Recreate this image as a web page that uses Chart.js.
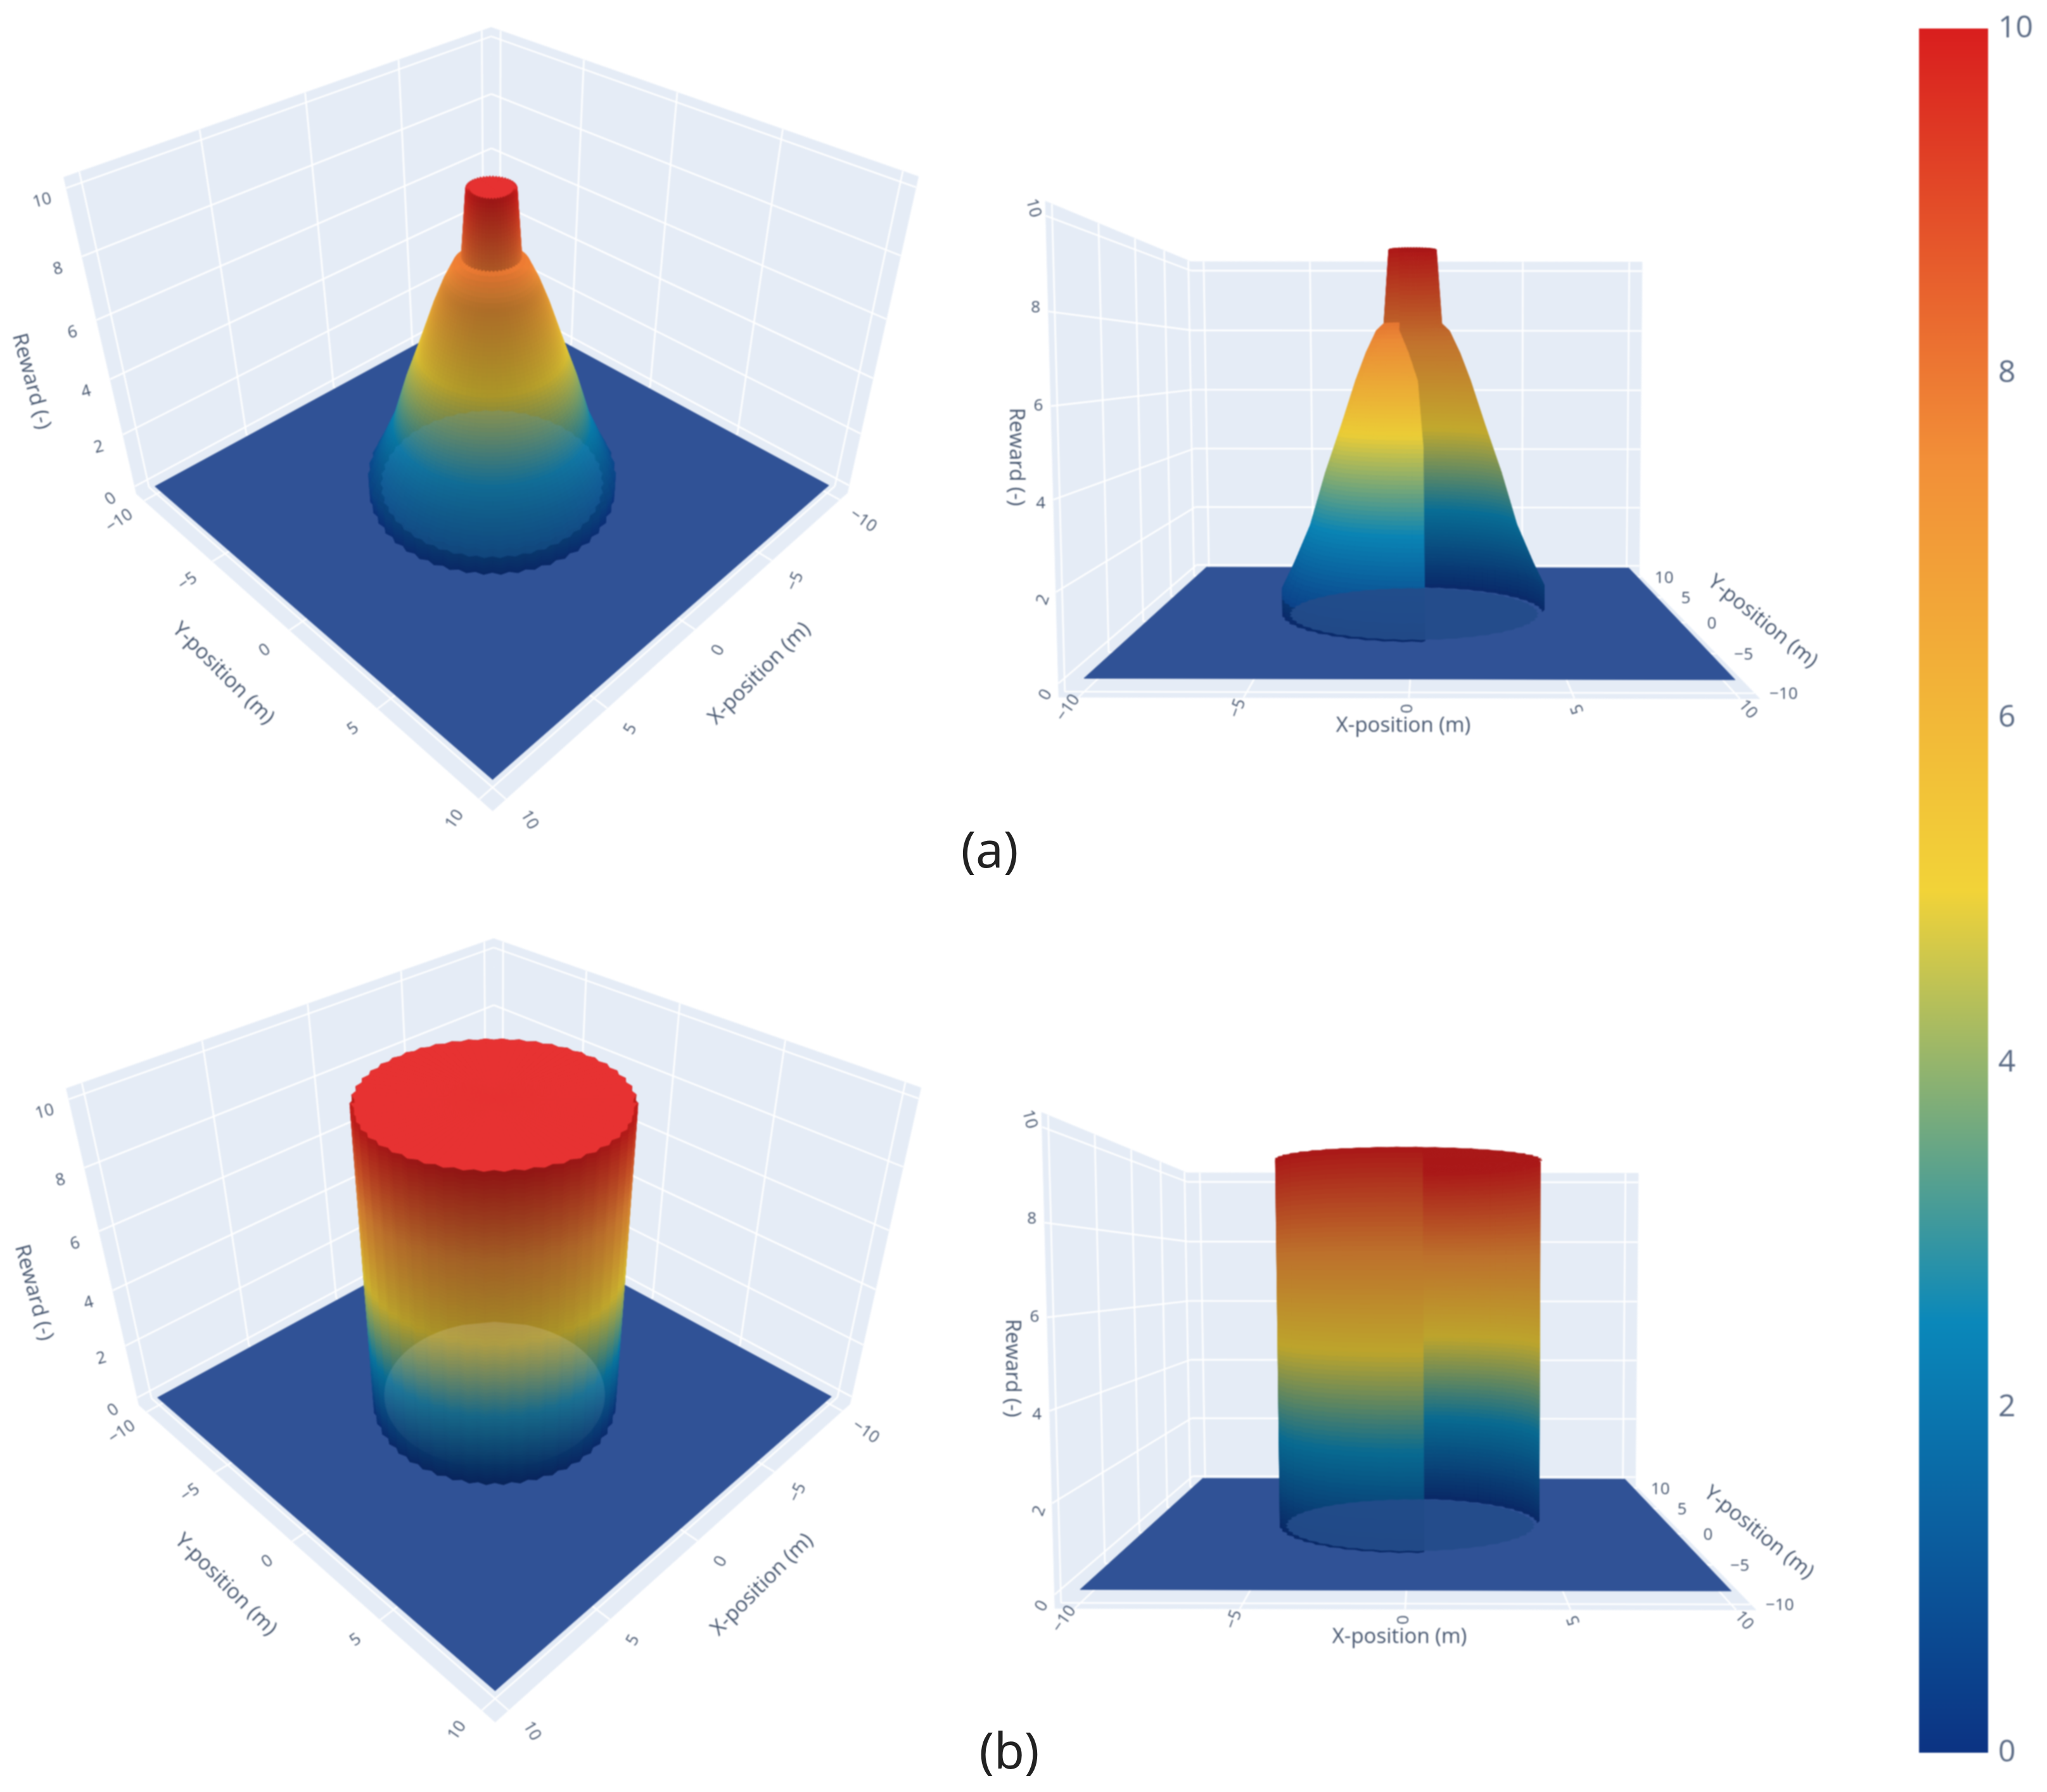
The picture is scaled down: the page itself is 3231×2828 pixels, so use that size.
<!DOCTYPE html>
<html>
<head>
<meta charset="utf-8">
<title>Reward surfaces</title>
<script src="https://cdn.jsdelivr.net/npm/chart.js@4/dist/chart.umd.js"></script>
<style>
html, body { margin: 0; padding: 0; background: #fff; }
#page { position: relative; width: 3231px; height: 2828px; overflow: hidden; }
#page canvas { position: absolute; filter: blur(1px); }
.tag { position: absolute; font: 78px "Noto Sans"; color: #222; transform: translate(-50%, -50%); }
</style>
</head>
<body>
<div id="page">
  <div class="tag" style="left:1562px;top:1339px">(a)</div>
  <div class="tag" style="left:1593px;top:2761px">(b)</div>
</div>
<script>
const xTicks = [-10, -5, 0, 5, 10];
const yTicks = [-10, -5, 0, 5, 10];
const zTicks = [0, 2, 4, 6, 8, 10];
const barTicks = [0, 2, 4, 6, 8, 10];
const radiusA = [0, 0.85, 1.05, 1.4, 1.8, 2.2, 2.75, 3.4, 4.0, 4.6, 4.95, 5.05, 5.05];
const rewardA = [10, 10, 8, 7.8, 7.2, 6.45, 5.25, 3.9, 2.45, 1.45, 0.85, 0.7, 0];
const radiusB = [0, 5, 5];
const rewardB = [10, 10, 0];
const colorLevels = [0, 2.5, 5, 7.5, 10];
const colorStops = [[12, 51, 131], [10, 136, 186], [242, 211, 56], [242, 143, 56], [217, 30, 30]];

// axis box of the plotly scene
const floorEdge = 10, axisEdge = 10.6, zLow = -0.3, zHigh = 10.3;

// 3x4 projection matrices, data units -> view plane
const cameraLeft = [
  [-35.6519, 17.5626, -12.4825, 776.738],
  [8.81220, 8.77965, -51.7907, 766.801],
  [-0.0117106, -0.0116558, -0.0159514, 1]
];
const cameraRight = [
  [40.2467, 48.2397, -5.18968, 2232.25],
  [0.00522817, 12.1891, -57.9401, 964.899],
  [-0.0000805452, 0.0213312, -0.00220983, 1]
];

function project(P, x, y, z) {
  const w = P[2][0] * x + P[2][1] * y + P[2][2] * z + P[2][3];
  return {
    x: (P[0][0] * x + P[0][1] * y + P[0][2] * z + P[0][3]) / w,
    y: (P[1][0] * x + P[1][1] * y + P[1][2] * z + P[1][3]) / w,
    w
  };
}
function cameraCentre(P) {
  const det = (m) => m[0][0] * (m[1][1] * m[2][2] - m[1][2] * m[2][1]) - m[0][1] * (m[1][0] * m[2][2] - m[1][2] * m[2][0]) + m[0][2] * (m[1][0] * m[2][1] - m[1][1] * m[2][0]);
  const M = P.map(r => r.slice(0, 3)), d = P.map(r => -r[3]), D = det(M);
  return [0, 1, 2].map(k => det(M.map((r, i) => r.map((v, j) => (j === k ? d[i] : v)))) / D);
}
function colorAt(z) {
  const v = Math.max(0, Math.min(10, z));
  let i = 0;
  while (i < colorLevels.length - 2 && v > colorLevels[i + 1]) i++;
  const t = (v - colorLevels[i]) / (colorLevels[i + 1] - colorLevels[i]);
  return colorStops[i].map((c, k) => c + (colorStops[i + 1][k] - c) * t);
}
function css(c) { return 'rgb(' + c.map(v => Math.round(Math.min(255, v))).join(',') + ')'; }
function lit(c, s) { return c.map(v => v + s * (255 - v)); }
function dim(c, f) { return c.map(v => v * f); }

// near wall of the right views is cut away, the far wall shows behind it
function seamAt(look, r) {
  const rs = look.seamR, xs = look.seamX;
  if (r <= rs[0]) return xs[0];
  for (let i = 1; i < rs.length; i++) {
    if (r <= rs[i]) return xs[i - 1] + (xs[i] - xs[i - 1]) * (r - rs[i - 1]) / (rs[i] - rs[i - 1]);
  }
  return xs[xs.length - 1];
}

function surfacePolys(P, radii, rewards, look) {
  const C = cameraCentre(P);
  const sectors = 96, jag = 0.06;
  const steep = (a, b) => b >= 0 && b < radii.length && Math.abs(radii[a] - radii[b]) < 0.3 && Math.abs(rewards[a] - rewards[b]) > 0.15;
  const isRim = radii.map((r, i) => r > 0 && (steep(i, i + 1) || steep(i, i - 1)));
  const ringR = (i, k) => radii[i] + (isRim[i] ? (k % 2 ? jag : -jag) : 0);
  const segN = [];
  for (let i = 0; i < radii.length - 1; i++) {
    const dr = radii[i + 1] - radii[i], dz = rewards[i + 1] - rewards[i], len = Math.hypot(dr, dz) || 1;
    segN.push([-dz / len, dr / len]);
  }
  const ringN = (i, seg) => {
    const other = segN[i === seg ? i - 1 : i];
    if (!other || other[0] * segN[seg][0] + other[1] * segN[seg][1] < 0.7) return segN[seg];
    const a = segN[seg][0] + other[0], b = segN[seg][1] + other[1], l = Math.hypot(a, b);
    return [a / l, b / l];
  };
  const polys = [];
  for (let i = 0; i < radii.length - 1; i++) {
    const dz = rewards[i + 1] - rewards[i];
    const strips = Math.max(1, Math.ceil(Math.abs(dz) / 0.12));
    const nA = ringN(i, i), nB = ringN(i + 1, i);
    const flat = segN[i][1] > 0.98;
    for (let k = 0; k < sectors; k++) {
      const a0 = k * 2 * Math.PI / sectors, a1 = (k + 1) * 2 * Math.PI / sectors, am = (a0 + a1) / 2;
      for (let s = 0; s < strips; s++) {
        const t0 = s / strips, t1 = (s + 1) / strips, tm = (t0 + t1) / 2;
        const rr = (t, q) => ringR(i, q) + (ringR(i + 1, q) - ringR(i, q)) * t;
        const z0 = rewards[i] + dz * t0, z1 = rewards[i] + dz * t1, zm = (z0 + z1) / 2;
        let corners = [[rr(t0, k), a0, z0], [rr(t0, k + 1), a1, z0], [rr(t1, k + 1), a1, z1], [rr(t1, k), a0, z1]]
          .map(([r, a, z]) => [r * Math.cos(a), r * Math.sin(a), z, r]);
        const cy = corners.reduce((q, p) => q + p[1], 0) / 4;
        if (look.seamX && cy < 0 && !flat) {
          if (corners.every(p => p[0] >= seamAt(look, p[3]))) continue;
          corners = corners.map(p => [Math.min(p[0], seamAt(look, p[3])), p[1], p[2], p[3]]);
        }
        const cx = corners.reduce((q, p) => q + p[0], 0) / 4;
        const d = [C[0] - cx, C[1] - cy, C[2] - zm], dl = Math.hypot(d[0], d[1], d[2]);
        const nr = nA[0] + (nB[0] - nA[0]) * tm, nz = nA[1] + (nB[1] - nA[1]) * tm;
        const n = [nr * Math.cos(am), nr * Math.sin(am), nz];
        const facing = Math.abs((n[0] * d[0] + n[1] * d[1] + n[2] * d[2]) / dl);
        let c = colorAt(zm);
        if (flat) {
          c = C[2] > zm ? dim(lit(c, 0.08), 1.05) : dim(c, 0.78);
        } else if (look.k !== undefined) {
          c = dim(c, Math.min(1, look.base - look.k * facing + look.lift * Math.max(0, nz - 0.5)));
        } else {
          c = dim(c, cy < 0 && nz > 0.2 ? look.near : look.far);
        }
        const pts = corners.map(p => project(P, p[0], p[1], p[2]));
        polys.push({ pts, color: css(c), w: pts.reduce((q, p) => q + p.w, 0) / 4 });
      }
    }
  }
  polys.sort((a, b) => b.w - a.w);
  return polys;
}
// translucent base lip seen through the surface
function discPolys(P, look) {
  const r = look.discR;
  if (look.discFade) {
    const C = cameraCentre(P), dl = Math.hypot(C[0], C[1]), ux = C[0] / dl, uy = C[1] / dl;
    const bands = 40, polys = [];
    for (let b = 0; b < bands; b++) {
      const s0 = -r + 2 * r * b / bands, s1 = -r + 2 * r * (b + 1) / bands;
      const h0 = Math.sqrt(Math.max(0, r * r - s0 * s0)), h1 = Math.sqrt(Math.max(0, r * r - s1 * s1));
      const pt = (s, h) => project(P, ux * s - uy * h, uy * s + ux * h, look.discZ);
      const alpha = look.discFade * Math.pow(1 - (b + 0.5) / bands, 0.8);
      polys.push({ pts: [pt(s0, -h0), pt(s0, h0), pt(s1, h1), pt(s1, -h1)], color: 'rgba(255,255,255,' + alpha.toFixed(3) + ')', clear: true });
    }
    return polys;
  }
  const pts = [];
  for (let k = 0; k < 96; k++) {
    const a = k * 2 * Math.PI / 96, q = r + (k % 2 ? 0.05 : -0.05);
    pts.push(project(P, q * Math.cos(a), q * Math.sin(a), look.discZ));
  }
  return [{ pts, color: look.discColor, clear: true }];
}
function quad3(P, list, color) { return { pts: list.map(p => project(P, p[0], p[1], p[2])), color }; }

function wallPolys(P, view) {
  const color = '#e5ecf6', A = axisEdge;
  const polys = [quad3(P, [[-A, -A, zLow], [A, -A, zLow], [A, A, zLow], [-A, A, zLow]], color)];
  view.wallX.forEach(at => polys.push(quad3(P, [[at, -A, zLow], [at, A, zLow], [at, A, zHigh], [at, -A, zHigh]], color)));
  view.wallY.forEach(at => polys.push(quad3(P, [[-A, at, zLow], [A, at, zLow], [A, at, zHigh], [-A, at, zHigh]], color)));
  return polys;
}
function gridLine(P, a, b) {
  const p = project(P, a[0], a[1], a[2]), q = project(P, b[0], b[1], b[2]);
  return { data: [{ x: p.x, y: p.y }, { x: q.x, y: q.y }], showLine: true, pointRadius: 0, borderColor: '#ffffff', borderWidth: 2.6 };
}
function gridLines(P, view) {
  const A = axisEdge, out = [];
  xTicks.forEach(t => out.push(gridLine(P, [t, -A, zLow], [t, A, zLow])));
  yTicks.forEach(t => out.push(gridLine(P, [-A, t, zLow], [A, t, zLow])));
  view.wallX.forEach(at => {
    yTicks.forEach(t => out.push(gridLine(P, [at, t, zLow], [at, t, zHigh])));
    zTicks.forEach(t => out.push(gridLine(P, [at, -A, t], [at, A, t])));
  });
  view.wallY.forEach(at => {
    xTicks.forEach(t => out.push(gridLine(P, [t, at, zLow], [t, at, zHigh])));
    zTicks.forEach(t => out.push(gridLine(P, [-A, at, t], [A, at, t])));
  });
  return out;
}
function tickText(v) { return String(v).replace('-', '\u2212'); }
function textMarks(P, view) {
  const marks = [], tick = 26, title = 33, ink = '#46566f';
  const push = (list, at, off, angles) => list.forEach((t, i) => {
    const p = project(P, ...at(t)), o = off(t);
    marks.push({ text: tickText(t), x: p.x + o[0], y: p.y + o[1], angle: angles[i], size: tick, color: ink });
  });
  push(xTicks, view.xEdge, view.xOff, view.xAngles);
  push(yTicks, view.yEdge, view.yOff, view.yAngles);
  push(zTicks, view.zEdge, view.zOff, view.zAngles);
  view.titles.forEach(t => marks.push({ text: t[0], x: t[1], y: t[2], angle: t[3], size: title, color: ink }));
  return marks;
}

const viewLeft = {
  camera: cameraLeft, box: [0, 1500, 0, 1390],
  wallX: [-axisEdge], wallY: [-axisEdge],
  xEdge: t => [t, axisEdge, zLow], yEdge: t => [axisEdge, t, zLow], zEdge: t => [axisEdge, -axisEdge, t],
  xOff: () => [37, 33], yOff: () => [-39, 32], zOff: () => [-38, 20],
  xAngles: [35, -65, -60, -60, 60], yAngles: [-35, -35, -35, -35, -55], zAngles: [-35, -15, -15, -15, -15, -15],
  titles: [['Reward (-)', 49, 602, 75], ['Y-position (m)', 352, 1063, 45], ['X-position (m)', 1199, 1063, -45]]
};
const viewRight = {
  camera: cameraRight, box: [1540, 2940, 250, 1200],
  wallX: [-axisEdge], wallY: [axisEdge],
  xEdge: t => [t, -axisEdge, zLow], yEdge: t => [axisEdge, t, zLow], zEdge: t => [-axisEdge, -axisEdge, t],
  xOff: t => [-2 + 1.45 * t, 17], yOff: t => [41 - 0.5 * t, 2], zOff: t => [-20, 18 - 3 * t],
  xAngles: [-55, -70, -90, -110, 50], yAngles: [0, 0, 0, 0, 0], zAngles: [-60, -70, 0, 0, 0, 75],
  titles: [['Reward (-)', 1603, 721, 90], ['X-position (m)', 2215, 1146, 0], ['Y-position (m)', 2782, 981, 39]]
};

const meshLayers = {
  id: 'meshLayers',
  beforeDatasetsDraw(chart) { paintLayer(chart, 'back'); },
  afterDatasetsDraw(chart) { paintLayer(chart, 'front'); paintText(chart); }
};
function paintLayer(chart, layer) {
  const { ctx, scales } = chart;
  chart.data.datasets.filter(d => d.layer === layer).forEach(d => {
    d.polys.forEach(poly => {
      ctx.beginPath();
      poly.pts.forEach((p, i) => {
        const px = scales.x.getPixelForValue(p.x), py = scales.y.getPixelForValue(p.y);
        if (i) ctx.lineTo(px, py); else ctx.moveTo(px, py);
      });
      ctx.closePath();
      ctx.fillStyle = poly.color;
      ctx.fill();
      if (!poly.clear) { ctx.strokeStyle = poly.color; ctx.lineWidth = 1; ctx.stroke(); }
    });
  });
}
function paintText(chart) {
  const { ctx, scales } = chart;
  chart.data.datasets.filter(d => d.marks).forEach(d => d.marks.forEach(m => {
    ctx.save();
    ctx.translate(scales.x.getPixelForValue(m.x), scales.y.getPixelForValue(m.y));
    ctx.rotate(m.angle * Math.PI / 180);
    ctx.font = m.size + 'px "Open Sans"';
    ctx.fillStyle = m.color;
    ctx.textAlign = 'center';
    ctx.textBaseline = 'middle';
    ctx.fillText(m.text, 0, 0);
    ctx.restore();
  }));
}
function addCanvas(left, top, width, height) {
  const c = document.createElement('canvas');
  c.width = width; c.height = height;
  c.style.left = left + 'px'; c.style.top = top + 'px';
  c.style.width = width + 'px'; c.style.height = height + 'px';
  document.getElementById('page').appendChild(c);
  return c;
}
function drawPanel(view, radii, rewards, look, dx, dy) {
  const P = view.camera, [x0, x1, y0, y1] = view.box;
  const A = floorEdge;
  const floor = quad3(P, [[-A, -A, 0], [A, -A, 0], [A, A, 0], [-A, A, 0]], css(lit(colorAt(0), 0.15)));
  const canvas = addCanvas(x0 + dx, y0 + dy, x1 - x0, y1 - y0);
  new Chart(canvas, {
    type: 'scatter',
    data: {
      datasets: [
        { layer: 'back', polys: wallPolys(P, view), data: [], pointRadius: 0 },
        ...gridLines(P, view),
        { layer: 'front', polys: [floor, ...surfacePolys(P, radii, rewards, look), ...discPolys(P, look)], data: [], pointRadius: 0 },
        { marks: textMarks(P, view), data: [], pointRadius: 0 }
      ]
    },
    options: {
      responsive: false, animation: false, events: [],
      layout: { padding: 0 },
      plugins: { legend: { display: false }, tooltip: { enabled: false } },
      scales: {
        x: { type: 'linear', display: false, min: x0, max: x1 },
        y: { type: 'linear', display: false, min: y0, max: y1, reverse: true }
      }
    },
    plugins: [meshLayers]
  });
}
const rowOffset = 1438;
const rightDisc = { discR: 4.8, discZ: 0, discColor: 'rgba(36,76,138,0.92)' };
drawPanel(viewLeft, radiusA, rewardA, { base: 0.97, k: 0.26, lift: 0.6, discR: 4.6, discZ: 0.3, discColor: 'rgba(80,170,240,0.14)' }, 0, 0);
drawPanel(viewRight, radiusA, rewardA, { near: 0.97, far: 0.8, seamR: [1.4, 2.2, 3, 5], seamX: [-0.5, 0.2, 0.4, 0.45], ...rightDisc }, 0, 0);
drawPanel(viewLeft, radiusB, rewardB, { base: 0.9, k: 0.26, lift: 0.6, discR: 4.6, discZ: 0.3, discFade: 0.16 }, 4, rowOffset);
drawPanel(viewRight, radiusB, rewardB, { near: 0.8, far: 0.78, seamR: [5], seamX: [0.55], ...rightDisc }, -6, rowOffset);

new Chart(addCanvas(3029, 0, 202, 2828), {
  type: 'bar',
  data: {
    labels: ['Reward'],
    datasets: [{
      data: [[barTicks[0], barTicks[barTicks.length - 1]]],
      barPercentage: 1, categoryPercentage: 1,
      backgroundColor(ctx) {
        const { chart } = ctx, y = chart.scales.y;
        if (!chart.chartArea || !y) return css(colorStops[0]);
        const g = chart.ctx.createLinearGradient(0, y.getPixelForValue(0), 0, y.getPixelForValue(10));
        colorLevels.forEach((v, i) => g.addColorStop(v / 10, css(colorStops[i])));
        return g;
      }
    }]
  },
  options: {
    responsive: false, animation: false, events: [],
    layout: { padding: { top: 45, bottom: 62, left: 0, right: 0 } },
    plugins: { legend: { display: false }, tooltip: { enabled: false } },
    scales: {
      x: { display: false },
      y: {
        position: 'right', min: 0, max: 10,
        grid: { display: false }, border: { display: false },
        afterBuildTicks(axis) { axis.ticks = barTicks.map(v => ({ value: v })); },
        afterFit(axis) { axis.width = 93; },
        ticks: { font: { size: 48, family: '"Open Sans"' }, color: '#5b6b85', padding: 8 }
      }
    }
  }
});
</script>
</body>
</html>
